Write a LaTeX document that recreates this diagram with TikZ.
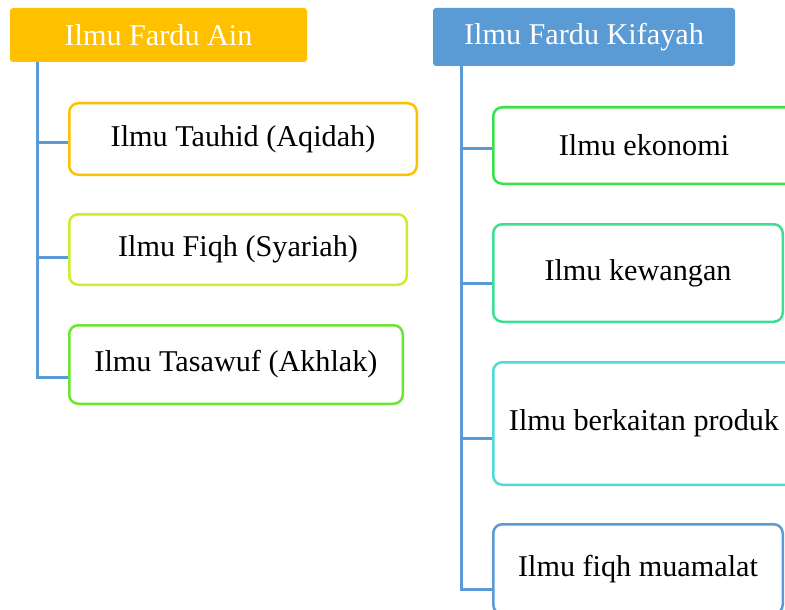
\documentclass[tikz,border=0pt]{standalone}
\usepackage{fontspec}
\setmainfont{Liberation Serif}
\newcommand{\fsz}{\fontsize{30.2}{34}\selectfont}
\definecolor{lineblue}{HTML}{5B9BD5}
\definecolor{ainfill}{HTML}{FFC000}
\definecolor{kiffill}{HTML}{5B9BD5}
\definecolor{cA}{HTML}{FFC000}
\definecolor{cB}{HTML}{C9EE2A}
\definecolor{cC}{HTML}{6BE532}
\definecolor{cD}{HTML}{3CE04B}
\definecolor{cE}{HTML}{3EDD96}
\definecolor{cF}{HTML}{4FD9DB}
\definecolor{cG}{HTML}{5B9BD5}
\begin{document}
\begin{tikzpicture}[x=1pt,y=-1pt,
  hdr/.style={rectangle, rounded corners=3pt, inner sep=0pt, text=white, font=\fsz},
  item/.style={rectangle, draw, line width=2.5pt, rounded corners=9pt, fill=white, inner sep=0pt, text=black, font=\fsz},
  conn/.style={draw=lineblue, line width=3pt}]
\useasboundingbox (0,0) rectangle (785,610);
\clip (0,0) rectangle (785,610);
\fill[white] (0,0) rectangle (785,610);
% headers
\node[hdr, fill=ainfill, minimum width=297pt, minimum height=54pt] (ain) at (158.5,35) {Ilmu Fardu Ain};
\node[hdr, fill=kiffill, minimum width=302pt, minimum height=58pt] (kif) at (584,37) {Ilmu Fardu Kifayah};
% left items
\node[item, draw=cA, minimum width=347.5pt, minimum height=71.5pt] (tauhid) at (243,139) {Ilmu Tauhid (Aqidah)};
\node[item, draw=cB, minimum width=337.5pt, minimum height=70.5pt] (fiqh) at (238,249.5) {Ilmu Fiqh (Syariah)};
\node[item, draw=cC, minimum width=333.5pt, minimum height=78.5pt] (tasawuf) at (236,364.5) {Ilmu Tasawuf (Akhlak)};
% right items
\node[item, draw=cD, minimum width=301.5pt, minimum height=76.5pt] (ekonomi) at (644,145.5) {Ilmu ekonomi};
\node[item, draw=cE, minimum width=289.5pt, minimum height=97.5pt] (kewangan) at (638,273) {Ilmu kewangan};
\node[item, draw=cF, minimum width=301.5pt, minimum height=122.5pt] (produk) at (644,423.5) {Ilmu berkaitan produk};
\node[item, draw=cG, minimum width=289.5pt, minimum height=89.5pt] (muamalat) at (638,569) {Ilmu fiqh muamalat};
% connection points
\coordinate (ta) at ([xshift=28pt]ain.south west);
\coordinate (tk) at ([xshift=29pt]kif.south west);
\coordinate (p1) at ([yshift=-3pt]tauhid.west);
\coordinate (p2) at ([yshift=-7.5pt]fiqh.west);
\coordinate (p3) at ([yshift=-12.5pt]tasawuf.west);
\coordinate (q1) at ([yshift=-2.5pt]ekonomi.west);
\coordinate (q2) at ([yshift=-10pt]kewangan.west);
\coordinate (q3) at ([yshift=-14.5pt]produk.west);
\coordinate (q4) at ([yshift=-20pt]muamalat.west);
% connectors
\draw[conn] (ta) |- (p3);
\draw[conn] (ta |- p1) -- (p1);
\draw[conn] (ta |- p2) -- (p2);
\draw[conn] (tk) |- (q4);
\draw[conn] (tk |- q1) -- (q1);
\draw[conn] (tk |- q2) -- (q2);
\draw[conn] (tk |- q3) -- (q3);
\end{tikzpicture}
\end{document}
